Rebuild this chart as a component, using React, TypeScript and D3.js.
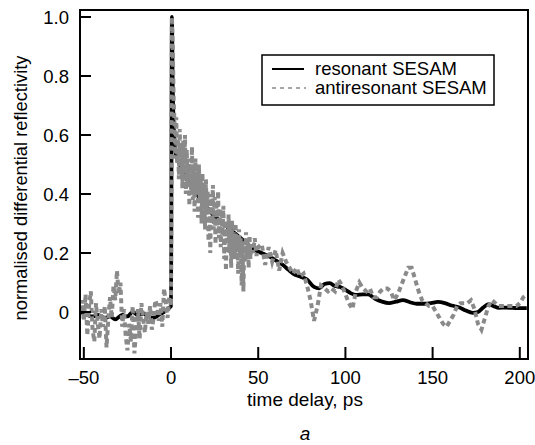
import React from "react";
import * as d3 from "d3";

const W = 535;
const H = 445;

const xTicks = [-50, 0, 50, 100, 150, 200];
const yTicks = [0, 0.2, 0.4, 0.6, 0.8, 1.0];
const yTickLabels = ["0", "0.2", "0.4", "0.6", "0.8", "1.0"];
const xTickLabels = ["\u201350", "0", "50", "100", "150", "200"];

// resonant SESAM (time ps, value)
const resT = [-52, -48, -45, -42, -38, -35, -32, -28, -25, -22, -19, -16, -13, -10, -7, -4, -2, 0, 0.5, 1, 2, 3, 5, 8, 10, 13, 16, 20, 24, 28, 32, 36, 40, 44, 48, 52, 56, 60, 64, 67, 70, 74, 78, 82, 85, 88, 91, 94, 97, 100, 103, 106, 110, 113, 117, 121, 125, 129, 133, 137, 141, 145, 149, 153, 157, 161, 165, 169, 173, 176, 179, 182, 185, 188, 192, 196, 200, 204];
const resV = [0.0, -0.01, -0.015, -0.01, -0.02, -0.015, -0.025, -0.01, -0.015, 0.0, -0.01, -0.005, -0.015, -0.02, -0.01, 0.0, 0.01, 0.02, 1.0, 0.75, 0.58, 0.53, 0.5, 0.46, 0.44, 0.41, 0.39, 0.36, 0.33, 0.31, 0.29, 0.27, 0.25, 0.23, 0.21, 0.2, 0.19, 0.175, 0.16, 0.145, 0.13, 0.12, 0.11, 0.085, 0.08, 0.095, 0.098, 0.088, 0.085, 0.075, 0.064, 0.058, 0.06, 0.06, 0.045, 0.035, 0.03, 0.035, 0.04, 0.033, 0.028, 0.028, 0.03, 0.034, 0.03, 0.022, 0.016, 0.005, -0.003, 0.0, 0.015, 0.027, 0.02, 0.014, 0.015, 0.014, 0.013, 0.013];

// antiresonant SESAM: before zero (1 ps steps from -52 to 0)
const antiPreT = [-52, -51, -50, -49, -48, -47, -46, -45, -44, -43, -42, -41, -40, -39, -38, -37, -36, -35, -34, -33, -32, -31, -30, -29, -28, -27, -26, -25, -24, -23, -22, -21, -20, -19, -18, -17, -16, -15, -14, -13, -12, -11, -10, -9, -8, -7, -6, -5, -4, -3, -2, -1, 0];
const antiPreV = [0.0, 0.04, -0.03, 0.06, -0.08, 0.02, 0.07, -0.06, -0.1, 0.03, -0.04, -0.09, 0.01, -0.05, 0.02, -0.12, -0.03, 0.05, -0.02, 0.09, 0.04, 0.14, 0.06, 0.1, -0.05, 0.01, -0.08, -0.13, -0.04, -0.1, 0.02, -0.14, -0.06, 0.01, -0.09, 0.03, -0.02, -0.07, 0.0, -0.04, 0.02, -0.06, -0.02, 0.04, 0.02, -0.03, 0.03, -0.05, 0.08, 0.03, -0.02, 0.05, 0.02];
// peak and fast noisy decay (0.5..45.5 ps in 0.5 ps steps, then 1 ps)
const antiMidT = [0.5, 1, 1.5, 2, 2.5, 3, 3.5, 4, 4.5, 5, 5.5, 6, 6.5, 7, 7.5, 8, 8.5, 9, 9.5, 10, 10.5, 11, 11.5, 12, 12.5, 13, 13.5, 14, 14.5, 15, 15.5, 16, 16.5, 17, 17.5, 18, 18.5, 19, 19.5, 20, 20.5, 21, 21.5, 22, 22.5, 23, 23.5, 24, 24.5, 25, 25.5, 26, 26.5, 27, 27.5, 28, 28.5, 29, 29.5, 30, 30.5, 31, 31.5, 32, 32.5, 33, 33.5, 34, 34.5, 35, 35.5, 36, 36.5, 37, 37.5, 38, 38.5, 39, 39.5, 40, 40.5, 41, 41.5, 42, 42.5, 43, 43.5, 44, 44.5, 45, 45.5, 46, 47, 48, 49, 50];
const antiMidV = [1.0, 0.9, 0.72, 0.64, 0.52, 0.66, 0.5, 0.6, 0.45, 0.62, 0.48, 0.57, 0.42, 0.58, 0.47, 0.6, 0.4, 0.55, 0.44, 0.52, 0.36, 0.5, 0.41, 0.56, 0.38, 0.49, 0.34, 0.52, 0.4, 0.47, 0.32, 0.5, 0.37, 0.45, 0.3, 0.47, 0.35, 0.43, 0.28, 0.45, 0.33, 0.41, 0.24, 0.4, 0.2, 0.37, 0.3, 0.43, 0.28, 0.39, 0.23, 0.36, 0.29, 0.41, 0.25, 0.35, 0.22, 0.33, 0.26, 0.36, 0.18, 0.31, 0.14, 0.3, 0.24, 0.33, 0.2, 0.29, 0.15, 0.31, 0.22, 0.27, 0.18, 0.3, 0.21, 0.26, 0.13, 0.28, 0.19, 0.25, 0.09, 0.23, 0.07, 0.24, 0.17, 0.27, 0.19, 0.24, 0.15, 0.26, 0.18, 0.23, 0.2, 0.25, 0.19, 0.22];
// slower tail (2 ps steps)
const antiTailT = [52, 54, 56, 58, 60, 62, 64, 66, 68, 70, 72, 74, 76, 78, 80, 82, 84, 86, 88, 90, 92, 94, 96, 98, 100, 102, 104, 106, 108, 110, 112, 114, 116, 118, 120, 122, 124, 126, 128, 130, 132, 134, 136, 138, 140, 142, 144, 146, 148, 150, 152, 154, 156, 158, 160, 162, 164, 166, 168, 170, 172, 174, 176, 178, 180, 182, 184, 186, 188, 190, 192, 194, 196, 198, 200, 202, 204];
const antiTailV = [0.23, 0.16, 0.22, 0.17, 0.21, 0.14, 0.2, 0.17, 0.15, 0.13, 0.15, 0.12, 0.13, 0.09, 0.04, -0.03, 0.02, 0.09, 0.08, 0.07, 0.08, 0.07, 0.11, 0.09, 0.06, 0.03, 0.01, 0.07, 0.1, 0.08, 0.07, 0.08, 0.05, 0.05, 0.07, 0.08, 0.08, 0.07, 0.04, 0.06, 0.09, 0.12, 0.15, 0.15, 0.11, 0.07, 0.04, 0.03, 0.02, 0.02, 0.0, -0.02, -0.04, -0.05, -0.03, -0.01, 0.02, 0.03, 0.03, 0.03, 0.04, 0.01, -0.04, -0.06, -0.02, 0.02, 0.04, 0.03, 0.02, 0.02, 0.02, 0.02, 0.02, 0.02, 0.03, 0.05, 0.06];

const legendLabels = ["resonant SESAM", "antiresonant SESAM"];

const FONT = "'Liberation Sans', Arial, Helvetica, sans-serif";
const GRAY = "#8a8a8a";

export default function App() {
  const L = 80, R = 528, T = 10, B = 359;
  const x = d3.scaleLinear().domain([-52.2, 204.7]).range([L, R]);
  const y = d3.scaleLinear().domain([-0.1593, 1.0237]).range([B, T]);

  const res = resT.map((t, i) => [t, resV[i]] as [number, number]);
  const antiT = [...antiPreT, ...antiMidT, ...antiTailT];
  const antiV = [...antiPreV, ...antiMidV, ...antiTailV];
  const anti = antiT.map((t, i) => [t, antiV[i]] as [number, number]);

  const resPath = d3.line<[number, number]>().x(d => x(d[0])).y(d => y(d[1])).curve(d3.curveMonotoneX)(res) || "";
  const antiPath = d3.line<[number, number]>().x(d => x(d[0])).y(d => y(d[1]))(anti) || "";

  return (
    <svg width={W} height={H} style={{ position: "absolute", left: 0, top: 0, background: "#fff" }} fontFamily={FONT}>
      <rect x={0} y={0} width={W} height={H} fill="#fff" />
      <defs>
        <clipPath id="plot">
          <rect x={L} y={T} width={R - L} height={B - T} />
        </clipPath>
      </defs>
      <g clipPath="url(#plot)">
        <path d={resPath} fill="none" stroke="#000" strokeWidth={3.8} strokeLinejoin="round" />
        <path d={antiPath} fill="none" stroke={GRAY} strokeWidth={4} strokeDasharray="5,3.5" />
      </g>
      {/* frame */}
      <rect x={L} y={T} width={R - L} height={B - T} fill="none" stroke="#000" strokeWidth={2} />
      {/* y ticks */}
      {yTicks.map((v, i) => (
        <g key={"y" + i}>
          <line x1={L} x2={L + 11} y1={y(v)} y2={y(v)} stroke="#000" strokeWidth={2} />
          <text x={69} y={y(v)} dy="0.36em" textAnchor="end" fontSize={18.5}>{yTickLabels[i]}</text>
        </g>
      ))}
      {/* x ticks */}
      {xTicks.map((v, i) => (
        <g key={"x" + i}>
          <line x1={x(v)} x2={x(v)} y1={B} y2={B - 12} stroke="#000" strokeWidth={2} />
          <text x={x(v)} y={384} textAnchor="middle" fontSize={18.5}>{xTickLabels[i]}</text>
        </g>
      ))}
      <text x={305} y={406} textAnchor="middle" fontSize={19}>time delay, ps</text>
      <text x={305} y={440} textAnchor="middle" fontSize={19} fontStyle="italic">a</text>
      <text transform="translate(27,188) rotate(-90)" textAnchor="middle" fontSize={18.3}>normalised differential reflectivity</text>
      {/* legend */}
      <rect x={262} y={55} width={232} height={50} fill="#fff" stroke="#000" strokeWidth={1.5} />
      <line x1={272} x2={304} y1={69} y2={69} stroke="#000" strokeWidth={2} />
      <line x1={272} x2={306} y1={88} y2={88} stroke={GRAY} strokeWidth={1.5} strokeDasharray="4,4" />
      <text x={315} y={75} fontSize={18.5}>{legendLabels[0]}</text>
      <text x={315} y={94} fontSize={18.5}>{legendLabels[1]}</text>
    </svg>
  );
}
